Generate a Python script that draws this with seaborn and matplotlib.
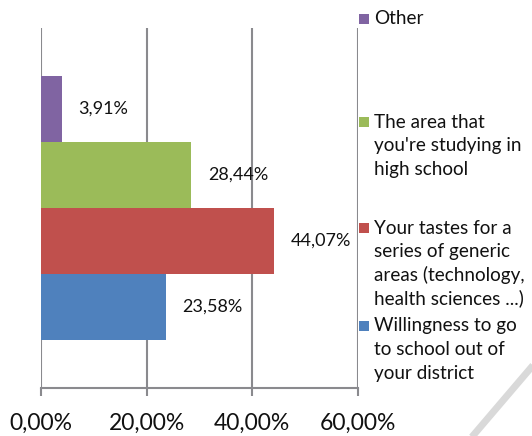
import matplotlib
matplotlib.use("Agg")
import matplotlib.pyplot as plt
from matplotlib.lines import Line2D
from matplotlib.patches import Rectangle
import seaborn as sns
import pandas as pd

# Survey answers: factor that weighed most when choosing a course
factors = [
    "Other",
    "The area that\nyou're studying in\nhigh school",
    "Your tastes for a\nseries of generic\nareas (technology,\nhealth sciences ...)",
    "Willingness to go\nto school out of\nyour district",
]
shares = [3.91, 28.44, 44.07, 23.58]
colors = ["#8064A2", "#9BBB59", "#C0504D", "#4F81BD"]
x_ticks = [0, 20, 40, 60]
x_tick_labels = ["0,00%", "20,00%", "40,00%", "60,00%"]

sns.set_theme(style="white")
plt.rcParams["font.family"] = ["Lato", "DejaVu Sans"]

W, H = 532, 436
fig = plt.figure(figsize=(W / 100, H / 100), dpi=100)
ax = fig.add_axes([41 / W, 48 / H, (358 - 41) / W, (388 - 28) / H])

df = pd.DataFrame({"group": [""] * len(factors), "factor": factors, "share": shares})
sns.barplot(
    data=df, x="share", y="group", hue="factor", hue_order=factors,
    palette=colors, orient="h", width=0.733, dodge=True, legend=False,
    saturation=1, ax=ax, errorbar=None,
)

for cont, val in zip(ax.containers, shares):
    for bar in cont:
        bar.set_edgecolor("none")
    ax.bar_label(cont, labels=[f"{val:.2f}%".replace(".", ",")],
                 padding=12, fontsize=13, color="#111111")

grid_c = "#8a8a8e"
ax.set_xlim(0, 60)
ax.set_ylim(0.5, -0.5)
ax.set_xticks(x_ticks)
ax.set_xticklabels(x_tick_labels, fontsize=16.5, color="#111111")
ax.set_yticks([])
ax.set_xlabel("")
ax.set_ylabel("")
ax.grid(axis="x", color=grid_c, linewidth=1.5)
ax.set_axisbelow(True)
for side in ["top", "right", "left"]:
    ax.spines[side].set_visible(False)
ax.spines["bottom"].set_color(grid_c)
ax.spines["bottom"].set_linewidth(1.5)
ax.tick_params(axis="x", which="major", direction="out", length=6, width=1.5,
               color=grid_c, pad=12, bottom=True)

# Legend on the right, one block per answer with the swatch beside the first line
first_line_y = [19, 122, 228, 326]
pitch = 23.5
for lab, col, y0 in zip(factors, colors, first_line_y):
    fig.patches.append(Rectangle((359 / W, 1 - (y0 + 5) / H), 10 / W, 10 / H,
                                 transform=fig.transFigure, facecolor=col,
                                 edgecolor="none"))
    for i, line in enumerate(lab.split("\n")):
        fig.text(374 / W, 1 - (y0 + i * pitch) / H, line, fontsize=13.6,
                 color="#111111", ha="left", va="center")

# light page-curl stroke in the lower right corner
fig.lines.append(Line2D([535 / W, 471 / W], [1 - 363 / H, 1 - 438 / H],
                        transform=fig.transFigure, color="#d9d9d9",
                        linewidth=5, solid_capstyle="butt"))

fig.savefig("out.png", dpi=100)
